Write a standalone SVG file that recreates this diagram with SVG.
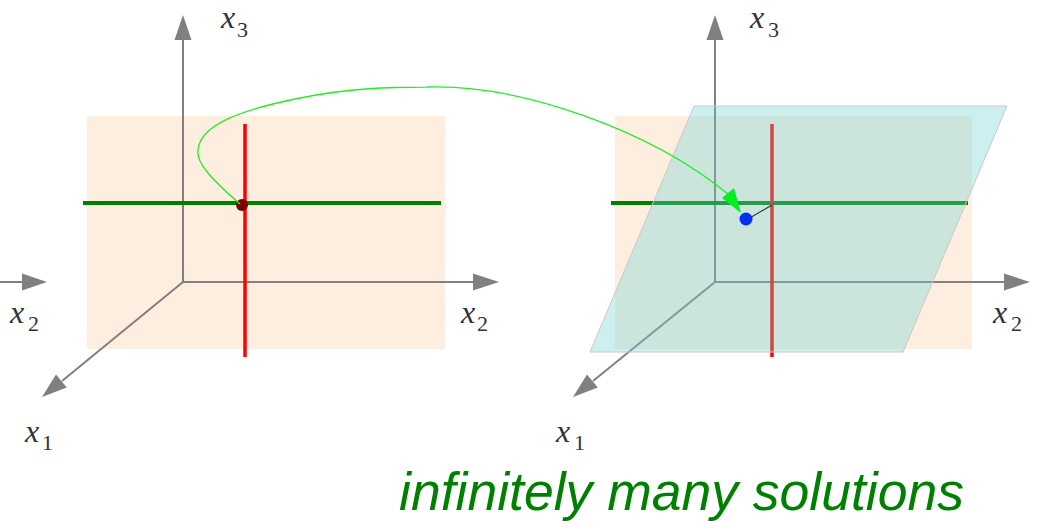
<svg xmlns="http://www.w3.org/2000/svg" width="1041" height="521" viewBox="0 0 1041 521">
<style>
.peach{fill:#FDEEE0}
.axis{stroke:#808080;stroke-width:2;fill:none}
.head{fill:#808080}
.gl{stroke:#008000;stroke-width:4}
.rl{stroke:#FF0000;stroke-width:3.5}
.lbl{font-family:"Liberation Serif",serif;font-style:italic;font-size:32px;fill:#333}
.sub{font-family:"Liberation Serif",serif;font-size:22px;fill:#333}
</style>
<rect width="1041" height="521" fill="#fff"/>
<g id="left-panel">
  <rect class="peach" x="87" y="116" width="358" height="233"/>
  <line class="axis" x1="183" y1="282" x2="183" y2="38"/>
  <polygon class="head" points="183,15 174.5,40 191.5,40"/>
  <line class="axis" x1="183" y1="282" x2="475" y2="282"/>
  <polygon class="head" points="499,282 473,273.5 473,290.5"/>
  <line class="axis" x1="0" y1="282" x2="24" y2="282"/>
  <polygon class="head" points="47,282 22,273.5 22,290.5"/>
  <line class="axis" x1="183" y1="282" x2="62" y2="381"/>
  <polygon class="head" points="42,397 56,374.4 66.8,387.6"/>
  <line class="gl" x1="83" y1="203" x2="441" y2="203"/>
  <line class="rl" x1="245" y1="124" x2="245" y2="357"/>
  <circle id="dot-left" cx="242" cy="205" r="6" fill="#800000"/>
  <text class="lbl" x="221" y="28">x</text><text class="sub" x="237" y="37">3</text>
  <text class="lbl" x="461" y="323">x</text><text class="sub" x="477" y="331">2</text>
  <text class="lbl" x="10" y="323">x</text><text class="sub" x="28" y="331">2</text>
  <text class="lbl" x="25" y="442">x</text><text class="sub" x="42" y="450">1</text>
</g>
<g id="right-panel">
  <rect class="peach" x="615" y="116" width="357" height="233"/>
  <line class="axis" x1="715" y1="282" x2="715" y2="38"/>
  <polygon class="head" points="715,15 706.5,40 723.5,40"/>
  <line class="axis" x1="715" y1="282" x2="1006" y2="282"/>
  <polygon class="head" points="1030,282 1004,273.5 1004,290.5"/>
  <line class="axis" x1="715" y1="282" x2="593" y2="381"/>
  <polygon class="head" points="573,397 587,374.4 597.8,387.6"/>
  <line class="gl" x1="611" y1="203" x2="968" y2="203"/>
  <line class="rl" x1="772" y1="124" x2="772" y2="357"/>
  <polygon id="plane" points="694,106 1007,106 903,352 590,352" fill="#6CD3D3" fill-opacity="0.35" stroke="#C8C8C8" stroke-width="1"/>
  <line x1="748" y1="219" x2="772" y2="205" stroke="#1a3a3a" stroke-width="1.2"/>
  <circle id="dot-right" cx="746" cy="219" r="6.5" fill="#0030F0"/>
  <text class="lbl" x="750" y="28">x</text><text class="sub" x="768" y="37">3</text>
  <text class="lbl" x="993" y="323">x</text><text class="sub" x="1011" y="331">2</text>
  <text class="lbl" x="556" y="442">x</text><text class="sub" x="574" y="450">1</text>
</g>
<g id="connectors">
  <path d="M240,204 C210,178 196,162 198,150 C200,125 240,110 300,98 C350,88 390,87 427,87 C520,84 650,130 728,194" fill="none" stroke="#22EE22" stroke-width="1.3"/>
  <polygon points="741,213 722,198 734,188" fill="#00EE22"/>
</g>
<text id="caption" x="399" y="510" font-family="'Liberation Sans',Arial,sans-serif" font-style="italic" font-size="53.5" fill="#008000">infinitely many solutions</text>
</svg>
